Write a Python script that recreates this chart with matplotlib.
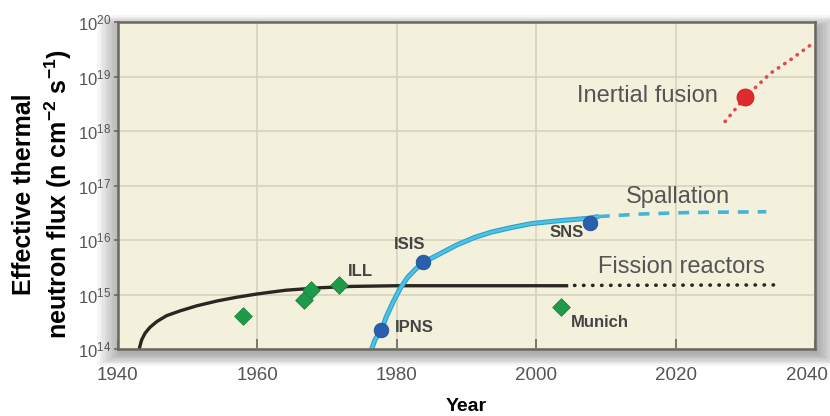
import matplotlib.pyplot as plt
from matplotlib.patches import FancyBboxPatch
from matplotlib.transforms import ScaledTranslation
import numpy as np

plt.rcParams['font.family'] = ['Liberation Sans', 'DejaVu Sans']
plt.rcParams['mathtext.default'] = 'regular'

# fission reactor envelope (solid = built, dotted = projection)
fission_years = [1943.06, 1943.4, 1943.9, 1944.6, 1945.6, 1947.0, 1948.9, 1951.3, 1954.2,
                 1957.0, 1959.9, 1961.8, 1964.1, 1968.9, 1973.6, 1980.0, 2004.6]
fission_flux = [1.0e14, 1.46e14, 1.95e14, 2.5e14, 3.2e14, 4.1e14, 5.0e14, 6.2e14, 7.6e14,
                8.9e14, 1.02e15, 1.1e15, 1.2e15, 1.33e15, 1.41e15, 1.45e15, 1.45e15]
fission_proj_years = [2005.5, 2034.3]
fission_proj_flux = [1.47e15, 1.5e15]

# spallation sources
spall_years = [1976.4, 1976.9, 1977.8, 1978.5, 1979.5, 1980.5, 1981.6, 1982.8, 1984.0,
               1986.2, 1988.6, 1991.2, 1993.6, 1996.5, 1999.3, 2003.1, 2007.4, 2009.0]
spall_flux = [1.0e14, 1.5e14, 2.2e14, 3.9e14, 7.4e14, 1.3e15, 2.1e15, 3.0e15, 4.0e15,
              5.6e15, 8.1e15, 1.12e16, 1.4e16, 1.7e16, 2.0e16, 2.25e16, 2.5e16, 2.7e16]
spall_proj_years = [2009.0, 2015.0, 2022.0, 2033.0]
spall_proj_flux = [2.7e16, 3.0e16, 3.2e16, 3.3e16]

# inertial fusion projection
fusion_years = [2027.1, 2030.0, 2033.6, 2036.4, 2039.6]
fusion_flux = [1.5e18, 4.2e18, 1.15e19, 2.0e19, 4.0e19]

# individual facilities
reactor_years = [1957.9, 1966.7, 1967.7, 1971.7, 2003.6]
reactor_flux = [4.0e14, 7.9e14, 1.2e15, 1.5e15, 5.9e14]

spall_pt_years = [1977.8, 1983.7, 2007.7]
spall_pt_flux = [2.2e14, 4.0e15, 2.05e16]

fusion_pt_year = [2030.0]
fusion_pt_flux = [4.2e18]

fig = plt.figure(figsize=(8.3, 4.16), dpi=100)
fig.patch.set_facecolor('white')
ax = fig.add_axes([0.142, 0.161, 0.840, 0.786])

# soft drop shadow behind the plot box
for i in range(10):
    pad = 0.001 + i * 0.003
    sh = FancyBboxPatch((0.142 + 0.003, 0.161 - 0.012), 0.840, 0.786,
                        boxstyle='square,pad=%f' % pad, transform=fig.transFigure,
                        facecolor='black', edgecolor='none', alpha=0.035, zorder=0)
    fig.patches.append(sh)

ax.set_facecolor('#f3f0dc')
ax.set_zorder(1)

ax.plot(fission_years, fission_flux, color='#2b2620', lw=2.4, solid_capstyle='butt')
ax.plot(fission_proj_years, fission_proj_flux, color='#2b2620', lw=2.6,
        linestyle=(0, (0.1, 2.4)), dash_capstyle='round')

ax.plot(spall_years, spall_flux, color='#2e9fc8', lw=3.6, solid_capstyle='butt')
ax.plot(spall_years, spall_flux, color='#4cc3e6', lw=2.0, solid_capstyle='butt')
ax.plot(spall_proj_years, spall_proj_flux, color='#45b4d6', lw=2.6, linestyle=(0, (3, 2.5)))

ax.plot(fusion_years, fusion_flux, color='#e5484c', lw=2.6,
        linestyle=(0, (0.1, 2.0)), dash_capstyle='round')

ax.scatter(reactor_years, reactor_flux, marker='D', s=80, color='#1f9a4a',
           edgecolors='#17853d', linewidths=0.6, zorder=5)
ax.scatter(spall_pt_years, spall_pt_flux, marker='o', s=110, color='#2a5fae',
           edgecolors='#1f4f98', linewidths=0.6, zorder=5)
ax.scatter(fusion_pt_year, fusion_pt_flux, marker='o', s=150, color='#e02a30',
           edgecolors='#c01e24', linewidths=0.6, zorder=5)

# series labels
big = dict(fontsize=17, color='#555555', ha='center', va='center')
ax.text(2016.0, 10 ** 18.64, 'Inertial fusion', **big)
ax.text(2020.3, 10 ** 16.79, 'Spallation', **big)
ax.text(2020.9, 10 ** 15.50, 'Fission reactors', **big)

# facility labels
small = dict(fontsize=12, color='#444444', fontweight='bold', va='center')
ax.text(1973.0, 10 ** 15.43, 'ILL', ha='left', **small)
ax.text(2005.0, 10 ** 14.48, 'Munich', ha='left', **small)
ax.text(1979.7, 10 ** 14.39, 'IPNS', ha='left', **small)
ax.text(1981.9, 10 ** 15.91, 'ISIS', ha='center', **small)
ax.text(2004.3, 10 ** 16.13, 'SNS', ha='center', **small)

ax.set_yscale('log')
ax.set_xlim(1940, 2040)
ax.set_ylim(1e14, 1e20)
ax.set_xticks([1940, 1960, 1980, 2000, 2020, 2040])
ax.set_yticks([10.0 ** k for k in range(14, 21)])
ax.minorticks_off()

ax.grid(True, color='#d6d2bd', lw=1.2)
ax.set_axisbelow(True)
for s in ax.spines.values():
    s.set_color('#6a6860')
    s.set_linewidth(1.8)

ax.tick_params(axis='x', direction='in', length=7, width=1.2, color='#6a6860',
               labelsize=13.5, labelcolor='#555555', pad=13)
ax.tick_params(axis='y', direction='out', length=3, width=1.2, color='#6a6860',
               labelsize=12, labelcolor='#555555', pad=2)

# keep the last year label inside the figure
last = ax.get_xticklabels()[-1]
last.set_transform(last.get_transform() + ScaledTranslation(-8 / 100, 0, fig.dpi_scale_trans))

ax.set_xlabel('Year', fontsize=14, fontweight='bold', labelpad=10)
ax.set_ylabel('Effective thermal\nneutron flux (n cm$^{-2}$ s$^{-1}$)', fontsize=18,
              fontweight='bold', linespacing=1.25)
ax.yaxis.set_label_coords(-0.063, 0.474)

fig.savefig('out.png', dpi=100)
